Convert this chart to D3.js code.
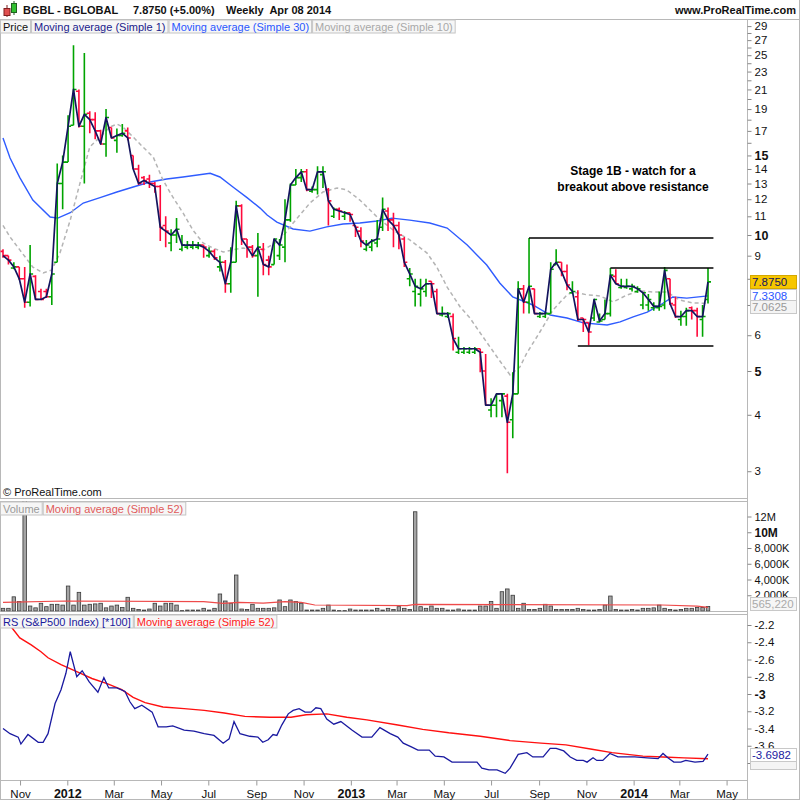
<!DOCTYPE html>
<html><head><meta charset="utf-8">
<script src="https://cdn.jsdelivr.net/npm/d3@7"></script>
<style>body{margin:0;background:#fff}svg{display:block}text{font-family:'Liberation Sans',Arial,Helvetica,sans-serif}</style>
</head><body><svg id="c" width="800" height="800"></svg>
<script>
// ---------------- DATA ----------------
const firstWeek = new Date(2011, 9, 10);   // first weekly bar
const lastWeek = new Date(2014, 3, 7);     // last weekly bar (Apr 08 2014 week)

const opens = [9.2,9.0,8.45,8.5,8.0,7.1,8.1,7.5,7.5,7.3,
8.7,13.0,14.5,17.5,20.8,17.4,18.6,18.0,17.0,15.9,
17.3,16.2,16.6,17.0,15.0,14.0,13.4,13.3,13.0,12.8,
10.5,9.6,10.0,9.3,9.4,9.4,9.4,9.5,9.0,9.2,
8.5,8.7,7.8,8.7,11.6,9.8,9.4,9.0,9.3,8.8,
8.6,9.0,9.4,10.8,12.9,13.4,13.8,12.5,12.6,13.6,
12.6,11.0,11.4,11.0,11.2,10.5,10.2,9.3,9.4,9.6,
10.4,11.3,10.8,10.5,9.8,8.0,7.5,7.4,7.5,7.9,
7.5,6.65,6.6,6.6,5.5,5.5,5.5,5.5,5.6,5.0,
4.1,4.2,4.3,4.4,3.9,4.45,7.6,7.1,7.6,6.6,
6.6,6.7,8.6,8.7,8.3,7.45,7.3,6.55,6.4,6.55,
6.42,6.5,6.7,8.1,7.65,7.65,7.6,7.5,7.0,7.0,
6.9,6.9,7.0,8.0,7.0,6.5,6.6,6.9,6.8,6.5,
7.2];
const highs = [9.3,9.0,8.7,8.5,8.5,9.5,8.15,7.6,7.6,8.2,
14.4,15.0,18.4,26.3,21,25.3,18.8,18.7,17.1,19.0,
17.3,17.2,17.6,17.3,15.0,14.3,13.5,13.6,13.1,12.9,
11.0,10.3,10.9,10.0,9.7,9.7,9.65,9.5,9.4,9.3,
9.0,8.8,9.4,11.9,11.7,9.8,9.5,10.1,9.6,9.0,
9.8,9.8,12.0,13.0,14.0,14.0,14.0,12.8,14.2,14.2,
12.7,11.5,11.5,11.3,11.2,10.5,10.4,9.75,9.8,10.8,
12.1,11.5,11.2,10.7,9.9,8.45,8.0,8.0,8.0,7.9,
7.6,6.95,6.75,6.7,5.95,5.65,5.65,5.65,5.6,5.45,
4.35,4.45,4.45,4.45,4.97,7.9,7.75,9.85,7.6,6.75,
6.75,8.7,9.3,8.7,8.6,7.9,7.55,6.55,6.4,7.2,
6.7,7.2,8.45,8.4,8.0,8.0,7.8,7.7,7.45,7.4,
7.1,7.5,8.5,8.0,7.3,6.8,6.9,6.95,6.9,7.0,
8.45];
const lows = [8.9,8.6,8.4,7.95,6.9,6.95,7.2,7.2,7.25,7.0,
8.7,11.4,14.5,17.5,17.3,13.0,16.8,16.3,15.9,14.9,
16.4,15.2,16.5,16.2,14.0,12.9,12.9,12.7,12.4,9.7,
9.4,9.2,9.6,9.2,9.3,9.3,9.3,8.9,8.9,8.8,
8.3,7.45,7.45,8.7,9.5,8.9,8.9,7.3,8.15,8.15,
8.6,8.8,8.7,10.7,12.9,13.1,12.5,12.4,12.3,12.7,
10.5,10.9,10.8,10.8,10.7,9.9,9.4,9.2,9.2,9.4,
10.2,10.2,9.4,9.3,8.5,7.7,6.95,6.95,7.3,7.25,
6.7,6.6,6.55,5.55,5.45,5.45,5.45,5.45,4.97,4.2,
3.95,3.95,3.95,2.97,3.55,4.45,6.7,6.7,6.7,6.55,
6.55,6.7,8.6,8.1,7.55,7.4,6.45,6.1,5.7,6.45,
6.4,6.5,6.6,7.8,7.6,7.6,7.5,7.45,6.85,6.8,
6.8,6.8,6.85,7.0,6.55,6.3,6.3,6.5,5.95,5.95,
7.05];
const closes = [9.0,8.8,8.5,8.0,7.1,8.2,7.2,7.2,7.3,8.2,
13.0,14.5,17.4,21,17.4,18.5,18.0,17.0,15.9,18.2,
16.4,16.6,16.8,16.4,14.0,13.0,13.2,13.0,12.8,10.4,
10.2,10.0,10.3,9.5,9.5,9.5,9.5,9.4,9.2,8.9,
8.7,7.8,8.7,11.6,9.8,9.4,9.0,9.4,8.6,8.5,
9.8,9.5,10.8,12.9,13.4,13.8,12.6,12.6,13.8,13.8,
11.9,11.4,11.3,11.2,11.1,10.4,9.7,9.5,9.7,9.8,
11.4,10.8,10.5,10.0,8.7,8.2,7.7,7.6,7.8,7.8,
6.7,6.7,6.7,5.9,5.6,5.6,5.6,5.6,5.5,4.2,
4.2,4.45,4.45,3.85,4.45,7.6,7.1,7.7,6.7,6.7,
6.7,8.4,8.7,8.3,7.75,7.5,6.5,6.5,6.1,7.2,
6.45,6.7,8.15,7.8,7.7,7.7,7.7,7.6,7.45,7.2,
6.95,6.95,8.35,7.05,6.6,6.6,6.8,6.8,6.6,6.6,
7.875];

// moving averages (week number since first bar, value)
const sma30Week = [0,1.3,3.1,5.5,8.7,10.1,12.4,14.8,17.9,21,24,27.1,30.2,33.2,38.2,40,42.4,45,47.4,48.7,50.5,53.5,56.6,59.7,62.7,65.8,69,71.7,75,78.7,81.9,85.6,89.2,91.6,94,97.7,100.9,104,107,111.4,113.8,116.2,118.8,121.2,123.5,126.1,130];
const sma30Value = [16.4,14.8,13.4,11.95,10.96,10.9,11.2,11.77,12.1,12.45,12.77,13.1,13.3,13.44,13.7,13.44,12.77,12.1,11.47,11.07,10.68,10.31,10.2,10.42,10.58,10.63,10.74,10.9,10.79,10.63,10.36,9.5,8.58,7.83,7.29,7.0,6.65,6.55,6.39,6.32,6.42,6.59,6.75,7.0,7.29,7.25,7.3308];
const sma10Week = [0,1.3,3.1,5.5,7.4,9,10.5,12.4,14.2,16,17.9,19.7,21,22.1,24,25.8,27.7,29.5,31.3,33.2,35,36.9,38.7,40.6,42.4,44.3,46.1,47.4,51.1,53.5,56.6,59,61.6,63.4,65.8,69,71.9,75,78.2,80,81.9,84.3,86.1,88,91.1,93.5,95.3,96.6,99,101.4,104,105.1,107.7,110.1,112.5,115.1,117.5,119.9,122.4,124.8,127.2,130];
const sma10Value = [10.5,9.9,9.27,8.49,8.24,8.37,9.12,10.79,13.03,15.66,16.48,17.34,17.6,17.34,16.48,15.66,14.88,13.23,12.14,11.19,10.26,9.6,9.36,9.17,9.27,9.36,9.27,9.17,9.75,10.63,11.77,12.45,12.71,12.58,11.95,10.96,10.26,9.75,9.12,8.49,7.67,6.93,6.55,6.07,5.37,4.9,5.1,5.48,6.1,6.82,7.37,7.48,7.37,7.33,7.11,7.37,7.52,7.48,7.48,7.18,7.07,7.0625];

// resistance / support lines drawn on the chart (start week, end week, price)
const levelStart = [97, 112, 106];
const levelEnd = [131, 131, 131];
const levelPrice = [9.85, 8.45, 5.68];

// volume, millions
const volume = [0.34,0.34,1.8,1.2,15,0.63,0.4,0.98,0.55,0.85,
0.85,0.75,3.17,0.75,2.37,0.75,0.85,0.9,0.98,0.4,
0.63,0.75,0.45,1.74,0.34,0.2,0.12,0.25,0.98,0.63,
0.98,0.98,0.75,0.05,0.12,0.12,0.12,0.34,0.12,0.34,
2.16,1.27,0.98,4.57,0.25,0.2,0.85,0.34,0.34,0.34,
0.4,1.4,0.55,1.4,1.2,0.98,0.12,0.12,0.12,0.34,
0.75,0.12,0.05,0.05,0.25,0.12,0.12,0.12,0.12,0.34,
0.12,0.34,0.2,0.55,0.34,0.2,12.6,0.55,0.34,0.63,
0.34,0.34,0.12,0.12,0.25,0.12,0.12,0.12,0.63,0.63,
1.2,0.34,2.45,2.8,2.0,0.34,0.98,0.2,0.2,0.34,
0.85,0.63,0.2,0.2,0.2,0.2,0.34,0.2,0.12,0.12,
0.2,0.75,1.9,0.2,0.12,0.12,0.2,0.12,0.34,0.34,
0.4,0.75,0.34,0.2,0.12,0.2,0.34,0.34,0.45,0.45,
0.57];
const volMaWeek = [0,11.5,37,40.6,43.5,48,52,55,57.5,74.5,76,121.5,128,130];
const volMaValue = [1.1,1.27,1.18,0.97,1.1,1.0,1.18,1.1,0.76,0.68,0.85,0.76,0.63,0.47];

// relative strength vs S&P500 (*100)
const rsWeek = [0,1.3,2.8,3.3,4.6,6.5,7.4,8.3,9.6,10.7,11.6,12.4,13.6,14.6,15.9,17.5,18.6,19.5,21,22.5,23.4,24.3,25.6,27.5,28.6,30.1,31.3,33.4,35.2,37.1,38.9,40.6,41.7,42.6,43.7,45.5,47,47.9,48.9,49.8,50.5,51.4,52.6,53.5,54.6,55.7,56.8,57.7,58.6,59.7,61,62.3,64.4,66.2,68,69.5,71.4,72.8,73.8,75.2,76.5,78.6,79.7,81.3,82.8,85,87.4,88.3,89.6,91.1,92.6,93.5,95,96.6,97.7,99.6,100.9,102,103.4,104.6,105.8,107,107.7,108.8,109.5,110.6,111.9,113.4,116.5,118.8,120.8,121.7,122.6,123.7,125,125.9,127.6,129.1,130];
const rsValue = [-3.40,-3.46,-3.50,-3.58,-3.47,-3.56,-3.56,-3.46,-3.11,-2.95,-2.76,-2.51,-2.80,-2.73,-2.86,-2.98,-2.81,-2.93,-2.93,-2.97,-3.09,-3.17,-3.13,-3.21,-3.38,-3.38,-3.37,-3.42,-3.43,-3.46,-3.48,-3.57,-3.52,-3.32,-3.46,-3.49,-3.50,-3.56,-3.53,-3.47,-3.48,-3.36,-3.23,-3.19,-3.17,-3.21,-3.21,-3.16,-3.17,-3.29,-3.35,-3.32,-3.42,-3.50,-3.50,-3.39,-3.46,-3.50,-3.57,-3.61,-3.65,-3.65,-3.72,-3.73,-3.79,-3.79,-3.79,-3.86,-3.88,-3.88,-3.92,-3.86,-3.70,-3.68,-3.73,-3.73,-3.63,-3.63,-3.66,-3.73,-3.77,-3.77,-3.79,-3.74,-3.77,-3.77,-3.69,-3.73,-3.73,-3.74,-3.75,-3.69,-3.74,-3.79,-3.79,-3.77,-3.79,-3.78,-3.6982];
const rsMaWeek = [0,1.5,3.1,5.2,7,8.3,10.7,13.6,16.4,19.2,21.9,24,26.2,29.5,33.4,37.1,40.8,44.6,49.2,53.1,55.9,59.7,63.4,67.1,72.8,77.4,82.2,88,93.5,99.2,103.8,108.6,112.3,118,121.7,125.6,130];
const rsMaValue = [-2.13,-2.22,-2.35,-2.43,-2.51,-2.58,-2.66,-2.74,-2.82,-2.88,-2.95,-3.04,-3.10,-3.15,-3.17,-3.19,-3.22,-3.26,-3.27,-3.27,-3.24,-3.23,-3.27,-3.30,-3.36,-3.41,-3.45,-3.49,-3.54,-3.57,-3.59,-3.64,-3.68,-3.72,-3.73,-3.74,-3.75];

// axis tick definitions (labels hidden behind value boxes in the original are omitted)
const priceTicks = d3.range(3, 30);
const priceLabels = [3,4,5,6,8,9,10,11,12,13,14,15,17,19,21,23,25,27,29];
const priceBold = [5,10,15];
const volTicks = [2,4,6,8,10,12];
const volLabels = ["2,000K","4,000K","6,000K","8,000K","10M","12M"];
const rsTicks = [-2.2,-2.4,-2.6,-2.8,-3,-3.2,-3.4,-3.6,-3.8];
const rsLabels = [-2.2,-2.4,-2.6,-2.8,-3,-3.2,-3.4,-3.6];
const monthNames = ["Jan","Feb","Mar","Apr","May","Jun","Jul","Aug","Sep","Oct","Nov","Dec"];

// value boxes on the right axis
const lastClose = 7.8750, lastSma30 = 7.3308, lastSma10 = 7.0625;
const lastVolume = "565,220", lastRs = -3.6982;

// ---------------- DRAW ----------------
const svg = d3.select("#c");
const AX = 747.5;            // right axis line
const GRAY = "#b8b8b8";
const weekDate = w => new Date(firstWeek.getTime() + w * 7 * 864e5);
const x = d3.scaleTime().domain([firstWeek, lastWeek]).range([3, 708]);
const xw = w => x(weekDate(w));

const P = {top: 19.5, bot: 498.5};
const V = {top: 501.5, bot: 611.5};
const R = {top: 614.5, bot: 780.5};

const yP = d3.scaleLog().domain([5, 10]).range([371, 235]);
const yV = d3.scaleLinear().domain([0, 12]).range([611, 516.5]);
const yR = d3.scaleLinear().domain([-3, -2.2]).range([694, 625]);

const defs = svg.append("defs");
function clip(id, p) {
  defs.append("clipPath").attr("id", id).append("rect")
    .attr("x", 0.5).attr("y", p.top).attr("width", AX - 0.5).attr("height", p.bot - p.top);
}
clip("cp", P); clip("cv", V); clip("cr", R);

// header
const hdr = svg.append("g");
hdr.append("line").attr("x1", 7).attr("x2", 7).attr("y1", 5).attr("y2", 17).attr("stroke", "#802020");
hdr.append("rect").attr("x", 4).attr("y", 8.5).attr("width", 6).attr("height", 7).attr("fill", "#e05050").attr("stroke", "#802020");
hdr.append("line").attr("x1", 14).attr("x2", 14).attr("y1", 1).attr("y2", 15).attr("stroke", "#206020");
hdr.append("rect").attr("x", 11.5).attr("y", 3.5).attr("width", 5).attr("height", 9).attr("fill", "#30c030").attr("stroke", "#206020");
const hs = {"font-size": "11px", "font-weight": "bold", fill: "#111"};
function txt(g, s, xx, yy, attrs) {
  const t = g.append("text").attr("x", xx).attr("y", yy).text(s);
  for (const k in attrs) t.attr(k, attrs[k]);
  return t;
}
txt(hdr, "BGBL - BGLOBAL", 23, 14, hs);
txt(hdr, "7.8750 (+5.00%)", 133, 14, hs);
txt(hdr, "Weekly  Apr 08 2014", 226, 14, hs).attr("xml:space", "preserve").style("white-space", "pre");
txt(hdr, "www.ProRealTime.com", 796, 14, hs).attr("text-anchor", "end");

// frames
function frame(p) {
  svg.append("rect").attr("x", 0.5).attr("y", p.top).attr("width", AX - 0.5).attr("height", p.bot - p.top)
    .attr("fill", "none").attr("stroke", GRAY);
}
svg.append("line").attr("x1", 0).attr("x2", 800).attr("y1", 19.5).attr("y2", 19.5).attr("stroke", GRAY);
frame(P); frame(V); frame(R);
svg.append("line").attr("x1", AX).attr("x2", AX).attr("y1", 19.5).attr("y2", 799.5).attr("stroke", GRAY);
svg.append("line").attr("x1", 799.5).attr("x2", 799.5).attr("y1", 0).attr("y2", 800).attr("stroke", GRAY);
svg.append("line").attr("x1", 0).attr("x2", 800).attr("y1", 799.5).attr("y2", 799.5).attr("stroke", GRAY);
svg.append("line").attr("x1", 0.5).attr("x2", 0.5).attr("y1", 780).attr("y2", 800).attr("stroke", GRAY);

// ---- price panel
const gp = svg.append("g").attr("clip-path", "url(#cp)");
const line = d3.line().curve(d3.curveLinear);
gp.append("path")
  .attr("d", line(sma30Week.map((w, i) => [xw(w), yP(sma30Value[i])])))
  .attr("fill", "none").attr("stroke", "#2f5cff").attr("stroke-width", 1.4);
gp.append("path")
  .attr("d", line(sma10Week.map((w, i) => [xw(w), yP(sma10Value[i])])))
  .attr("fill", "none").attr("stroke", "#b4b4b4").attr("stroke-width", 1.5).attr("stroke-dasharray", "4,3");

const ohlc = closes.map((c, i) => ({i, o: opens[i], h: highs[i], l: lows[i], c}));
const bg = gp.selectAll("g.bar").data(ohlc).join("g")
  .attr("stroke", d => d.c >= d.o ? "#00a400" : "#ff0a3c").attr("stroke-width", 1.6);
bg.append("line").attr("x1", d => xw(d.i)).attr("x2", d => xw(d.i)).attr("y1", d => yP(d.h)).attr("y2", d => yP(d.l));
bg.append("line").attr("x1", d => xw(d.i) - 3).attr("x2", d => xw(d.i)).attr("y1", d => yP(d.o)).attr("y2", d => yP(d.o));
bg.append("line").attr("x1", d => xw(d.i)).attr("x2", d => xw(d.i) + 3).attr("y1", d => yP(d.c)).attr("y2", d => yP(d.c));

gp.append("path")
  .attr("d", line(closes.map((c, i) => [xw(i), yP(c)])))
  .attr("fill", "none").attr("stroke", "#14145e").attr("stroke-width", 1.7).attr("stroke-linejoin", "round");

levelPrice.forEach((p, k) => {
  gp.append("line").attr("x1", xw(levelStart[k])).attr("x2", xw(levelEnd[k]))
    .attr("y1", yP(p)).attr("y2", yP(p)).attr("stroke", "#000").attr("stroke-width", 1.5);
});

const ann = {"font-size": "12px", "font-weight": "bold", fill: "#000", "text-anchor": "middle"};
txt(svg, "Stage 1B - watch for a", 633, 175, ann);
txt(svg, "breakout above resistance", 633, 191, ann);
txt(svg, "\u00a9 ProRealTime.com", 3, 496, {"font-size": "11px", fill: "#111"});

// legends
function legend(items, yTop) {
  let xx = 0.5;
  items.forEach(([s, col]) => {
    const g = svg.append("g");
    const r = g.append("rect").attr("y", yTop).attr("height", 13).attr("fill", "#f6f6f6").attr("stroke", "#c4c4c4");
    const t = g.append("text").attr("x", xx + 2.5).attr("y", yTop + 10.5).attr("font-size", "11px").attr("fill", col).text(s);
    const w = t.node().getComputedTextLength() + 5;
    r.attr("x", xx).attr("width", w);
    xx += w + 1;
  });
}
legend([["Price", "#111"], ["Moving average (Simple 1)", "#1a1a8c"], ["Moving average (Simple 30)", "#2a56ff"], ["Moving average (Simple 10)", "#a8a8a8"]], 20);

// price axis
const pa = svg.append("g").attr("transform", `translate(${AX},0)`)
  .call(d3.axisRight(yP).tickValues(priceTicks).tickSize(4).tickPadding(3)
    .tickFormat(d => priceLabels.includes(d) ? String(d) : ""));
pa.select(".domain").remove();
pa.selectAll("line").attr("stroke", "#888");
pa.selectAll("text").attr("font-size", d => priceBold.includes(d) ? "12.5px" : "11.5px")
  .attr("font-weight", d => priceBold.includes(d) ? "bold" : "normal").attr("fill", "#111")
  .attr("font-family", "'Liberation Sans',Arial,sans-serif");

function valBox(yy, s, fill, stroke, col, h) {
  h = h || 13;
  svg.append("rect").attr("x", 750.5).attr("y", Math.round(yy - h / 2) + 0.5).attr("width", 46).attr("height", h)
    .attr("fill", fill).attr("stroke", stroke);
  if (s) svg.append("text").attr("x", 752).attr("y", Math.round(yy - h / 2) + 11).attr("font-size", "11.5px").attr("fill", col).text(s);
}
valBox(yP(lastSma30), lastSma30.toFixed(4), "#fff", "#c8c8c8", "#2a56ff");
valBox(yP(lastClose), lastClose.toFixed(4), "#f7c600", "#d4a800", "#14145e");
valBox(yP(lastSma10) + 3, lastSma10.toFixed(4), "#f4f4f4", "#c8c8c8", "#999");

// ---- volume panel
const gv = svg.append("g").attr("clip-path", "url(#cv)");
gv.selectAll("rect.v").data(volume).join("rect")
  .attr("x", (v, i) => xw(i) - 1.75).attr("width", 3.5)
  .attr("y", v => yV(v)).attr("height", v => Math.max(0.5, yV(0) - yV(v)))
  .attr("fill", "#a4a4a4").attr("stroke", "#3a3a3a").attr("stroke-width", 0.8);
gv.append("path")
  .attr("d", line(volMaWeek.map((w, i) => [xw(w), yV(volMaValue[i])])))
  .attr("fill", "none").attr("stroke", "#ee4a4a").attr("stroke-width", 1.2);
legend([["Volume", "#9a9a9a"], ["Moving average (Simple 52)", "#e05a5a"]], 502);

const va = svg.append("g").attr("transform", `translate(${AX},0)`)
  .call(d3.axisRight(yV).tickValues(volTicks).tickSize(4).tickPadding(3)
    .tickFormat((d, i) => volLabels[i]));
va.select(".domain").remove();
va.selectAll("line").attr("stroke", "#888");
va.selectAll("text").attr("font-size", d => d === 10 ? "12px" : "11px")
  .attr("font-weight", d => d === 10 ? "bold" : "normal").attr("fill", "#111")
  .attr("font-family", "'Liberation Sans',Arial,sans-serif");
valBox(yV(0.57) - 3, lastVolume, "#f6f6f6", "#c8c8c8", "#aaa");

// ---- RS panel
const gr = svg.append("g").attr("clip-path", "url(#cr)");
gr.append("path")
  .attr("d", line(rsMaWeek.map((w, i) => [xw(w), yR(rsMaValue[i])])))
  .attr("fill", "none").attr("stroke", "#ff1010").attr("stroke-width", 1.4);
gr.append("path")
  .attr("d", line(rsWeek.map((w, i) => [xw(w), yR(rsValue[i])])))
  .attr("fill", "none").attr("stroke", "#1a1aa0").attr("stroke-width", 1.3);
legend([["RS (S&P500 Index) [*100]", "#1a1a9c"], ["Moving average (Simple 52)", "#ff1a1a"]], 615);

const ra = svg.append("g").attr("transform", `translate(${AX},0)`)
  .call(d3.axisRight(yR).tickValues(rsTicks).tickSize(4).tickPadding(3)
    .tickFormat(d => !rsLabels.includes(d) ? "" : (d === -3 ? "-3" : d.toFixed(1))));
ra.select(".domain").remove();
ra.selectAll("line").attr("stroke", "#888");
ra.selectAll("text").attr("font-size", d => d === -3 ? "12.5px" : "11.5px")
  .attr("font-weight", d => d === -3 ? "bold" : "normal").attr("fill", "#111")
  .attr("font-family", "'Liberation Sans',Arial,sans-serif");
valBox(yR(rsMaValue[rsMaValue.length - 1]) + 5, "", "#f4f4f4", "#c8c8c8", "#999", 10);
valBox(yR(lastRs), lastRs.toFixed(4), "#fff", "#c8c8c8", "#1a1aa0");

// ---- x axis
const tickDates = d3.timeMonth.range(new Date(2011, 10, 1), new Date(2014, 5, 2), 2);
const xa = svg.append("g").attr("transform", `translate(0,${R.bot})`)
  .call(d3.axisBottom(x).tickValues(tickDates).tickSize(5).tickPadding(4)
    .tickFormat(d => d.getMonth() === 0 ? String(d.getFullYear()) : monthNames[d.getMonth()]));
xa.select(".domain").remove();
xa.selectAll("line").attr("stroke", "#999");
xa.selectAll("text").attr("font-size", d => d.getMonth() === 0 ? "12.5px" : "11.5px")
  .attr("font-weight", d => d.getMonth() === 0 ? "bold" : "normal").attr("fill", "#111")
  .attr("font-family", "'Liberation Sans',Arial,sans-serif");
</script></body></html>
